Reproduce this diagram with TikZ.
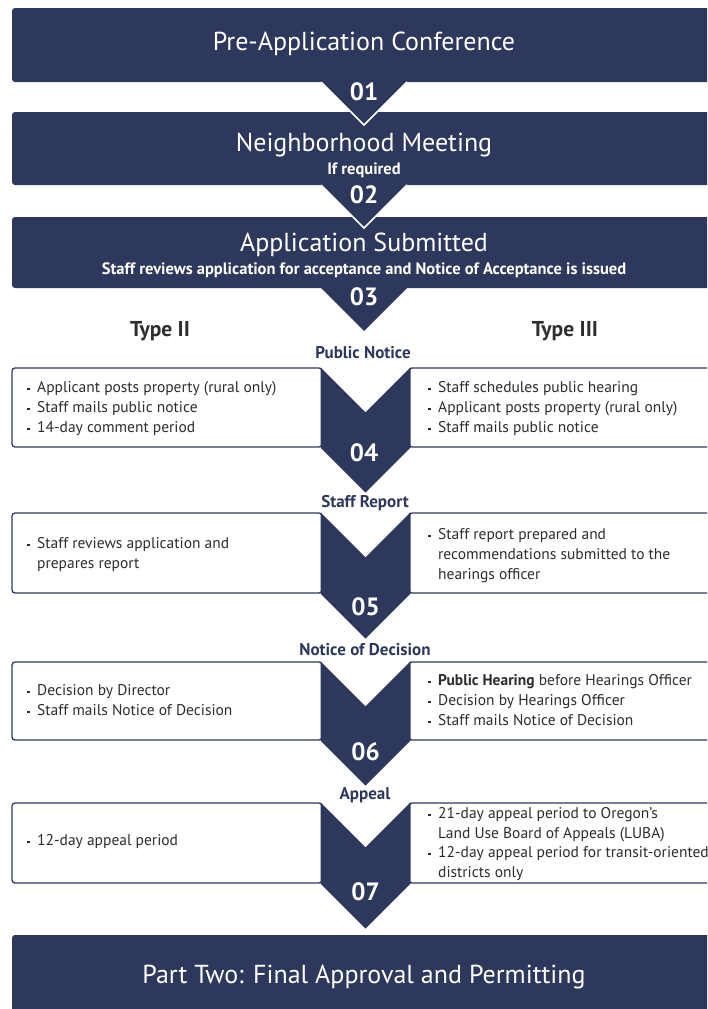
\documentclass[tikz,border=0pt]{standalone}
\usepackage{fontspec}
\setmainfont{PT Sans}
\definecolor{navy}{RGB}{45,56,92}
\definecolor{bodytext}{RGB}{45,45,45}
\newcommand{\bul}{\makebox[10pt][l]{\raisebox{0.32ex}{\rule{2.4pt}{2.4pt}}}}
\newcommand{\cont}{\hspace*{10pt}}
\begin{document}
\begin{tikzpicture}[x=1pt,y=-1pt,
  banner/.style={fill=navy, rounded corners=3pt},
  pointer/.style={fill=navy},
  pointeredge/.style={draw=white, line width=1.5pt, line join=miter},
  stepbox/.style={draw=navy, fill=white, line width=1.3pt, rounded corners=3pt},
  chevron/.style={fill=navy},
  title/.style={text=white, inner sep=0pt, font=\fontsize{26}{29}\selectfont},
  sub/.style={text=white, inner sep=0pt, font=\bfseries\fontsize{16.5}{18}\selectfont},
  num/.style={text=white, inner sep=0pt, font=\bfseries\fontsize{25}{27}\selectfont},
  phase/.style={text=navy, inner sep=0pt, font=\bfseries\fontsize{17}{19}\selectfont},
  typehead/.style={text=bodytext, inner sep=0pt, font=\bfseries\fontsize{21.5}{24}\selectfont},
  items/.style={text=bodytext, inner sep=0pt, anchor=west, align=left, font=\fontsize{15.5}{20}\selectfont},
]
\useasboundingbox (0,0) rectangle (707,1009);
\clip (0,0) rectangle (707,1009);

% ---- stage banners ----
\fill[banner] (12,8) rectangle (724,82);
\fill[banner] (12,112) rectangle (724,185);
\fill[banner] (12,217) rectangle (724,288);

% pointers between the banners
\fill[pointer] (319,80) -- (364,125) -- (409,80) -- cycle;
\draw[pointeredge] (321,82) -- (364,125) -- (407,82);
\fill[pointer] (319,183) -- (364,228) -- (409,183) -- cycle;
\draw[pointeredge] (321,185) -- (364,228) -- (407,185);
\fill[pointer] (319,286) -- (364,331) -- (409,286) -- cycle;

\node[title] (b1) at (364,44) {Pre-Application Conference};
\node[title] (b2) at (364,145) {Neighborhood Meeting};
\node[sub] (b2s) at (364,170) {If required};
\node[title] (b3) at (364,245) {Application Submitted};
\node[sub] (b3s) at (364,270) {Staff reviews application for acceptance and Notice of Acceptance is issued};

\node[num] (n1) at (364,92) {01};
\node[num] (n2) at (364,195) {02};
\node[num] (n3) at (364,297) {03};

% ---- review types ----
\node[typehead] (ty2) at (160,331) {Type II};
\node[typehead] (ty3) at (565,331) {Type III};

% ---- row 4: public notice ----
\node[phase] (p4) at (363,353) {Public Notice};
\draw[stepbox] (12,368) rectangle (322,447);
\draw[stepbox] (409,368) rectangle (724,447);
\fill[chevron] (320.5,367.4) -- (365.5,412.4) -- (410.5,367.4) -- (410.5,447.6) -- (365.5,492.6) -- (320.5,447.6) -- cycle;
\node[items] (l4) at (27,409) {\bul Applicant posts property (rural only)\\ \bul Staff mails public notice\\ \bul 14-day comment period};
\node[items] (r4) at (428,409) {\bul Staff schedules public hearing\\ \bul Applicant posts property (rural only)\\ \bul Staff mails public notice};
\node[num] (n4) at (364,453) {04};

% ---- row 5: staff report ----
\node[phase] (p5) at (365,503) {Staff Report};
\draw[stepbox] (12,513) rectangle (322,593);
\draw[stepbox] (409,513) rectangle (724,593);
\fill[chevron] (320.5,512.4) -- (365.5,557.4) -- (410.5,512.4) -- (410.5,593.6) -- (365.5,638.6) -- (320.5,593.6) -- cycle;
\node[items] (l5) at (27,555) {\bul Staff reviews application and\\ \cont prepares report};
\node[items] (r5) at (428,556) {\bul Staff report prepared and\\ \cont recommendations submitted to the\\ \cont hearings officer};
\node[num] (n5) at (365.5,607) {05};

% ---- row 6: notice of decision ----
\node[phase] (p6) at (365,650) {Notice of Decision};
\draw[stepbox] (12,662) rectangle (322,740);
\draw[stepbox] (409,662) rectangle (724,740);
\fill[chevron] (320.5,661.4) -- (365.5,706.4) -- (410.5,661.4) -- (410.5,740.6) -- (365.5,785.6) -- (320.5,740.6) -- cycle;
\node[items] (l6) at (27,700) {\bul Decision by Director\\ \bul Staff mails Notice of Decision};
\node[items] (r6) at (428,700) {\bul \textbf{Public Hearing} before Hearings Officer\\ \bul Decision by Hearings Officer\\ \bul Staff mails Notice of Decision};
\node[num] (n6) at (365.5,752) {06};

% ---- row 7: appeal ----
\node[phase] (p7) at (365,795) {Appeal};
\draw[stepbox] (12,803) rectangle (322,883);
\draw[stepbox] (409,803) rectangle (724,883);
\fill[chevron] (320.5,802.4) -- (365.5,847.4) -- (410.5,802.4) -- (410.5,883.6) -- (365.5,928.6) -- (320.5,883.6) -- cycle;
\node[items] (l7) at (27,842) {\bul 12-day appeal period};
\node[items, font=\fontsize{15.5}{19.5}\selectfont] (r7) at (428,844) {\bul 21-day appeal period to Oregon's\\ \cont Land Use Board of Appeals (LUBA)\\ \bul 12-day appeal period for transit-oriented\\ \cont districts only};
\node[num] (n7) at (365.5,892) {07};

% ---- final banner ----
\fill[banner] (12,935) rectangle (724,1014);
\node[title] (b8) at (364,977) {Part Two: Final Approval and Permitting};
\end{tikzpicture}
\end{document}
